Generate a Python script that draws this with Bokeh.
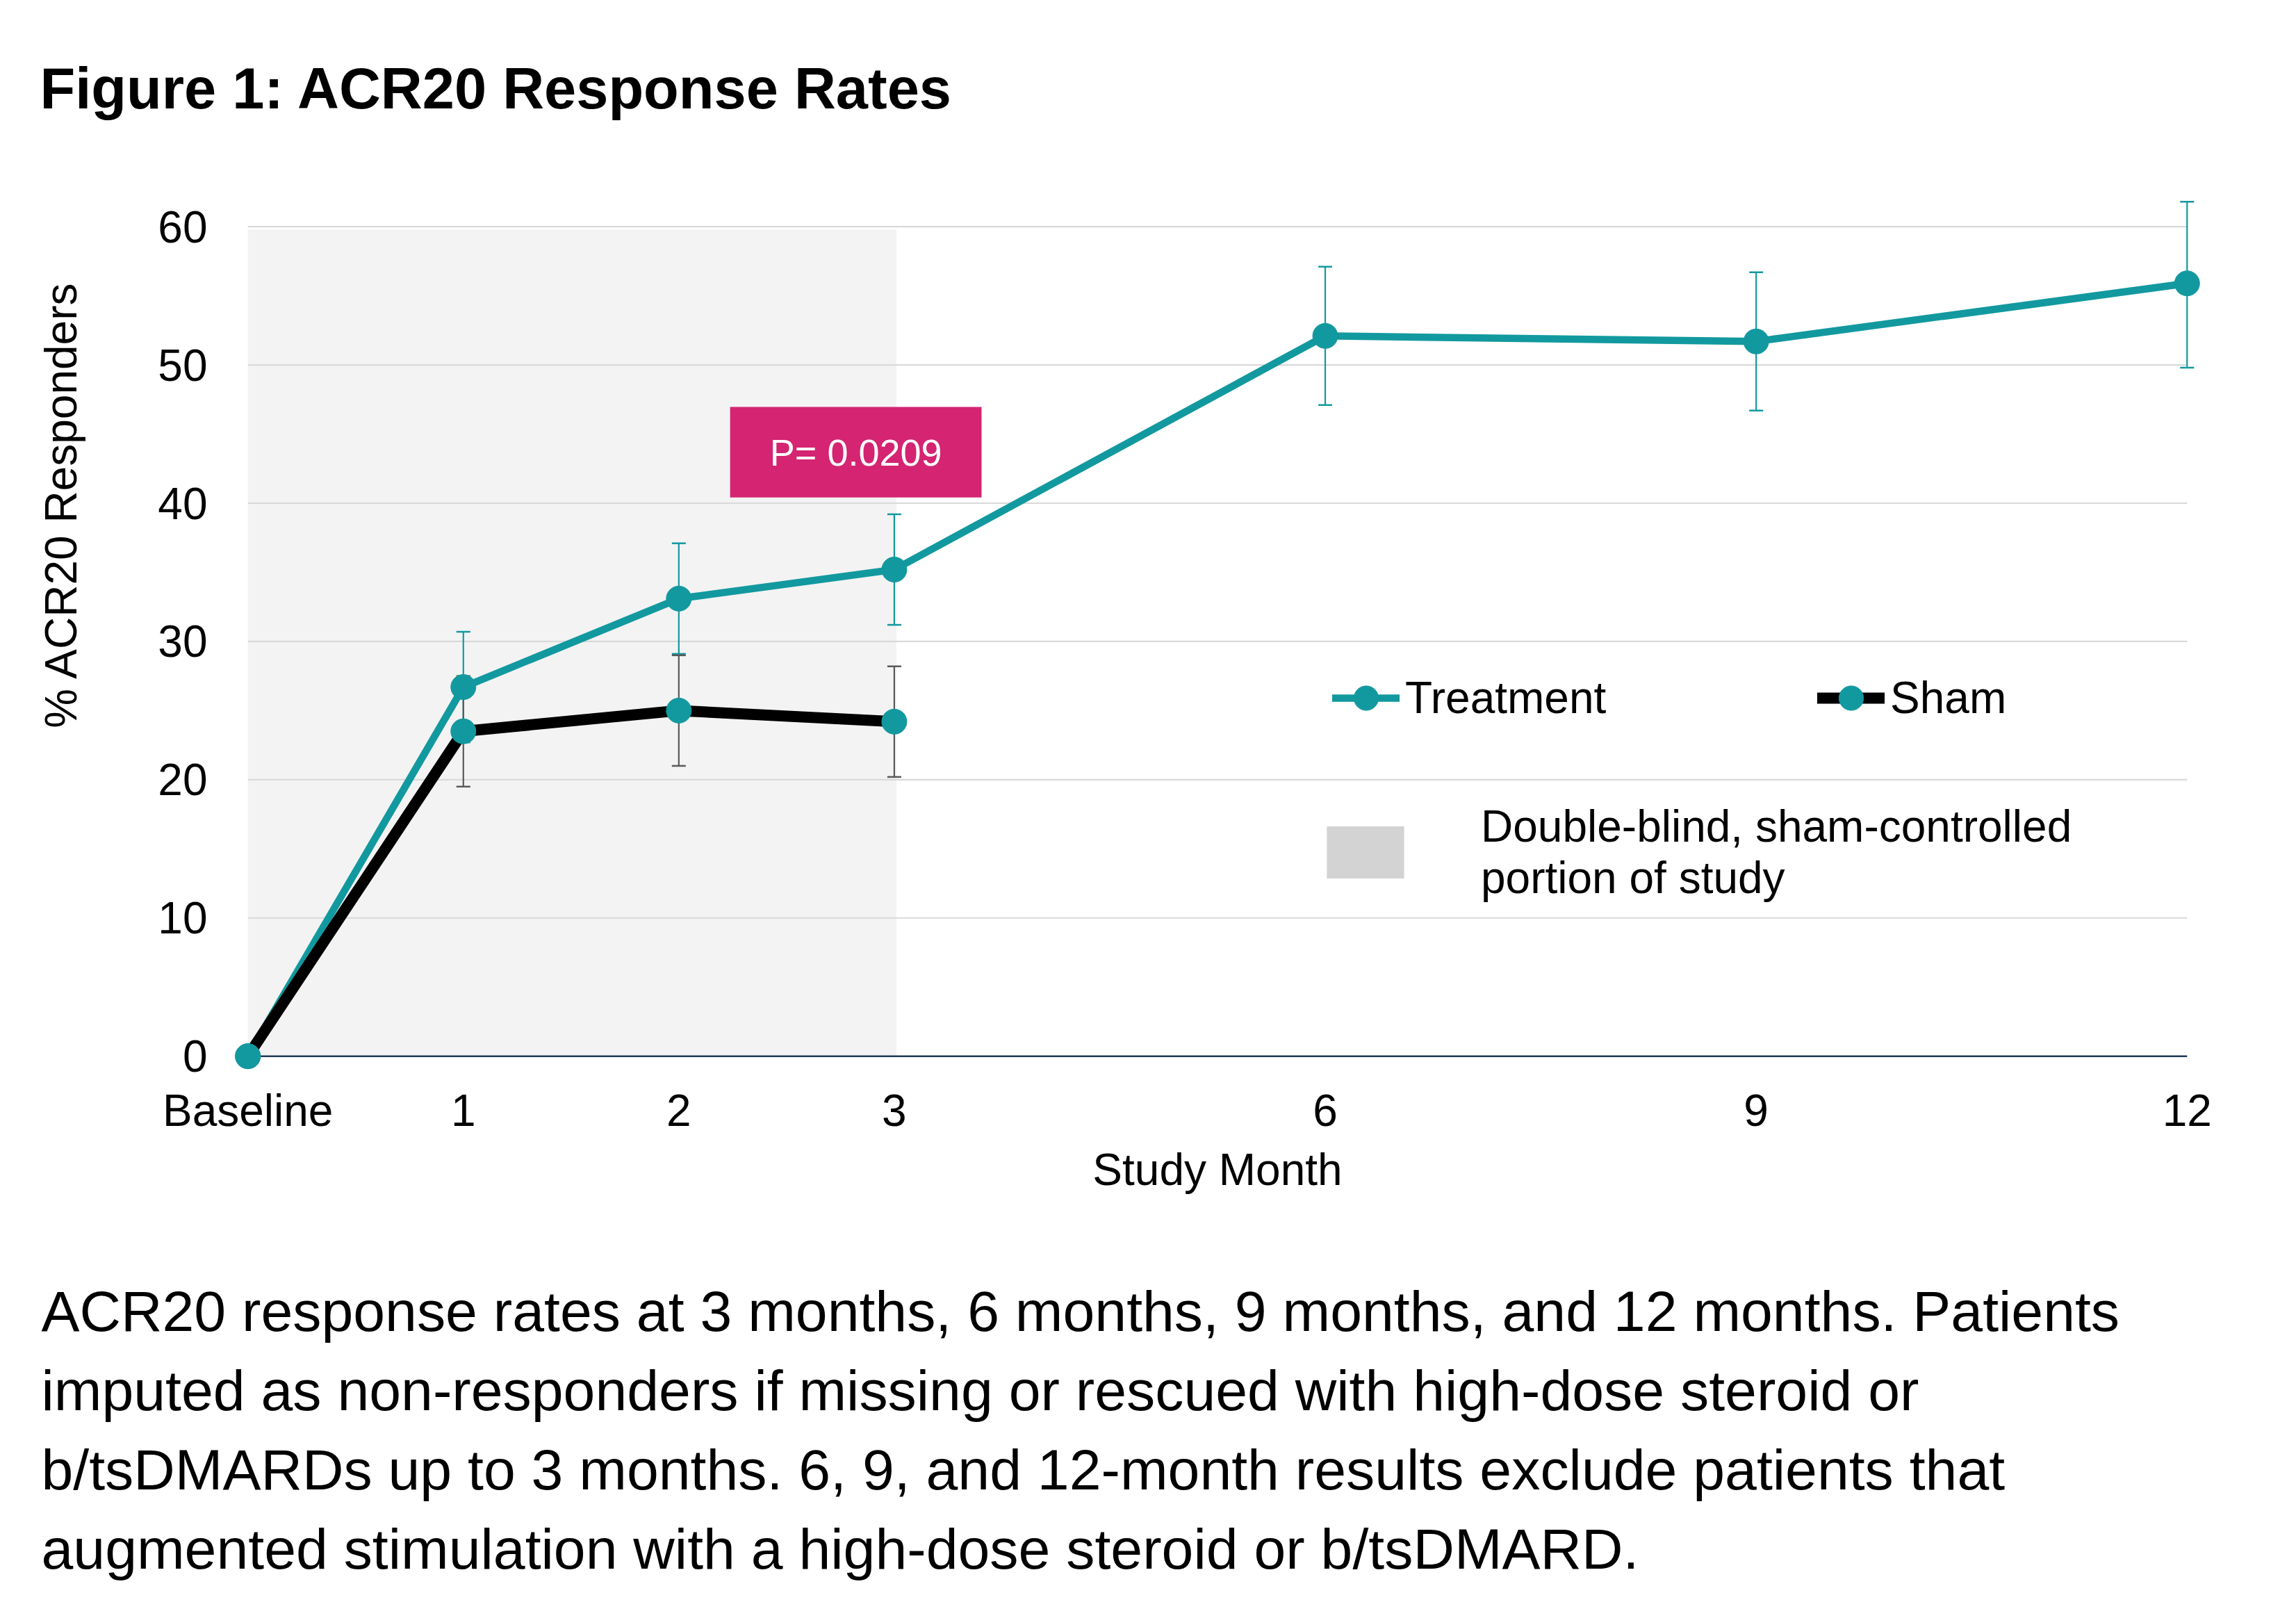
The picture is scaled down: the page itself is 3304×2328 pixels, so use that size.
import math
from bokeh.plotting import figure
from bokeh.layouts import column, row
from bokeh.models import (ColumnDataSource, Range1d, FixedTicker, Label, Legend,
                          LegendItem, BoxAnnotation)
from bokeh.core.properties import value
from bokeh.embed import file_html
from bokeh.resources import INLINE

# ---------------- data ----------------
month_labels = ["Baseline", "1", "2", "3", "6", "9", "12"]
axis_slot = [0, 1, 2, 3, 5, 7, 9]          # category slots on the Excel-like axis
treatment = [0.0, 26.7, 33.1, 35.2, 52.1, 51.7, 55.9]
treatment_upper = [30.7, 37.1, 39.2, 57.1, 56.7, 61.8]
treatment_lower = [22.7, 29.1, 31.2, 47.1, 46.7, 49.8]
sham = [0.0, 23.5, 25.0, 24.2]
sham_upper = [27.5, 29.0, 28.2]
sham_lower = [19.5, 21.0, 20.2]
y_ticks = [0, 10, 20, 30, 40, 50, 60]
blind_months = (0, 3)                       # index range of the double-blind portion
p_value_text = "P= 0.0209"
title_text = "Figure 1: ACR20 Response Rates"
y_title = "% ACR20 Responders"
x_title = "Study Month"
caption_lines = [
    "ACR20 response rates at 3 months, 6 months, 9 months, and 12 months. Patients",
    "imputed as non-responders if missing or rescued with high-dose steroid or",
    "b/tsDMARDs up to 3 months. 6, 9, and 12-month results exclude patients that",
    "augmented stimulation with a high-dose steroid or b/tsDMARD.",
]

# ---------------- style ----------------
FONT = "Liberation Sans"
TEAL = "#12999F"
MAGENTA = "#D42472"
SHADE = "#F3F3F3"
SWATCH = "#D3D3D3"
GRID = "#D9D9D9"
AXIS = "#1F3A56"
ERR_GRAY = "#595959"

W = 3288
TITLE_H = 220
MID_H = 1560
CAP_H = 532
YLAB_W = 150


def text_canvas(w, h):
    f = figure(width=w, height=h, output_backend="svg", toolbar_location=None, tools="",
               title=None, x_range=Range1d(0, w), y_range=Range1d(h, 0), min_border=0,
               x_axis_location=None, y_axis_location=None)
    f.outline_line_color = None
    f.background_fill_color = "white"
    f.border_fill_color = "white"
    f.grid.visible = False
    return f


# ---------------- title ----------------
ft = text_canvas(W, TITLE_H)
ft.text(x=[57], y=[127], text=[title_text], text_font=value(FONT), text_font_size=value("83px"),
        text_font_style=value("bold"), text_color=value("black"),
        text_align=value("left"), text_baseline=value("alphabetic"))

# ---------------- y-axis title ----------------
fy = text_canvas(YLAB_W, MID_H)
fy.text(x=[87], y=[556], text=[y_title], angle=math.pi / 2, text_font=value(FONT),
        text_font_size=value("64px"), text_color=value("black"),
        text_align=value("center"), text_baseline=value("alphabetic"))

# ---------------- main chart ----------------
p = figure(width=W - YLAB_W, height=MID_H, output_backend="svg", toolbar_location=None, tools="",
           title=None, x_range=Range1d(-0.12, 9.12), y_range=Range1d(-1.8, 63),
           min_border_left=319 - YLAB_W, min_border_right=104, min_border_top=266 - TITLE_H,
           min_border_bottom=TITLE_H + MID_H - 1555)
p.outline_line_color = None
p.background_fill_color = "white"
p.border_fill_color = "white"
p.xgrid.visible = False
p.ygrid.visible = False

b0, b1 = axis_slot[blind_months[0]], axis_slot[blind_months[1]]

# shaded double-blind portion
p.add_layout(BoxAnnotation(left=b0, right=b1 + 0.01, bottom=0, top=59.8,
                           fill_color=SHADE, fill_alpha=1.0, line_color=None, level="image"))

# gridlines limited to the category span
x_lo, x_hi = axis_slot[0], axis_slot[-1]
gl = p.segment(x0=[x_lo] * (len(y_ticks) - 1), x1=[x_hi] * (len(y_ticks) - 1),
               y0=y_ticks[1:], y1=y_ticks[1:], line_color=GRID, line_width=2.2)
gl.level = "underlay"
zl = p.segment(x0=[x_lo], x1=[x_hi], y0=[y_ticks[0]], y1=[y_ticks[0]], line_color=AXIS, line_width=2.5)
zl.level = "underlay"

src_t = ColumnDataSource(dict(x=axis_slot, y=treatment))
src_s = ColumnDataSource(dict(x=axis_slot[:len(sham)], y=sham))
src_te = ColumnDataSource(dict(x=axis_slot[1:], lo=treatment_lower, hi=treatment_upper))
src_se = ColumnDataSource(dict(x=axis_slot[1:len(sham)], lo=sham_lower, hi=sham_upper))

# error bars
for src, col in ((src_te, TEAL), (src_se, ERR_GRAY)):
    p.segment(x0="x", y0="lo", x1="x", y1="hi", source=src, line_color=col, line_width=2.2)
    p.scatter(x="x", y="hi", source=src, marker="dash", size=20, line_color=col, line_width=2.5)
    p.scatter(x="x", y="lo", source=src, marker="dash", size=20, line_color=col, line_width=2.5)

t_line = p.line("x", "y", source=src_t, line_color=TEAL, line_width=10.5, line_join="round", line_cap="round")
s_line = p.line("x", "y", source=src_s, line_color="black", line_width=16, line_join="round", line_cap="round")
t_pts = p.scatter("x", "y", source=src_t, size=36, fill_color=TEAL, line_color=TEAL, line_width=1)
s_pts = p.scatter("x", "y", source=src_s, size=36, fill_color=TEAL, line_color=TEAL, line_width=1)
# legend-only swatch for the double-blind region (hidden on the plot)
swatch = p.quad(left=[b0], right=[b1], bottom=[y_ticks[0]], top=[y_ticks[-1]],
                fill_color=SWATCH, line_color=None)
swatch.visible = False

# axes
xa = p.xaxis[0]
xa.ticker = FixedTicker(ticks=axis_slot)
xa.major_label_overrides = {s: lab for s, lab in zip(axis_slot, month_labels)}
xa.axis_line_color = None
xa.major_tick_line_color = None
xa.minor_tick_line_color = None
xa.major_tick_out = 0
xa.major_tick_in = 0
xa.major_label_standoff = 6
xa.major_label_text_font = FONT
xa.major_label_text_font_size = "64px"
xa.major_label_text_color = "black"
xa.axis_label = x_title
xa.axis_label_text_font = FONT
xa.axis_label_text_font_size = "64px"
xa.axis_label_text_font_style = "normal"
xa.axis_label_text_color = "black"
xa.axis_label_standoff = 10

ya = p.yaxis[0]
ya.ticker = FixedTicker(ticks=y_ticks)
ya.axis_line_color = None
ya.major_tick_line_color = None
ya.minor_tick_line_color = None
ya.major_tick_out = 0
ya.major_tick_in = 0
ya.major_label_standoff = 21
ya.major_label_text_font = FONT
ya.major_label_text_font_size = "64px"
ya.major_label_text_color = "black"

# P-value box
p.add_layout(BoxAnnotation(left=2.238, right=3.405, bottom=40.42, top=46.96,
                           fill_color=MAGENTA, fill_alpha=1.0, line_color=None))
p.add_layout(Label(x=2.822, y=43.69, text=p_value_text, text_align="center", text_baseline="middle",
                   text_color="white", text_font=FONT, text_font_size="54px"))

# legends
common = dict(padding=0, margin=0, spacing=0, border_line_color=None, background_fill_alpha=0,
              label_text_font=FONT, label_text_font_size="64px", label_text_color="black")
p.add_layout(Legend(items=[LegendItem(label="Treatment", renderers=[t_line, t_pts])],
                    location=(1598, 507), glyph_width=97, glyph_height=88, label_standoff=8, **common))
p.add_layout(Legend(items=[LegendItem(label="Sham", renderers=[s_line, s_pts])],
                    location=(2296, 507), glyph_width=97, glyph_height=88, label_standoff=8, **common))
p.add_layout(Legend(items=[LegendItem(label="Double-blind, sham-controlled\nportion of study", renderers=[swatch])],
                    location=(1576, 255), glyph_width=139, glyph_height=94, label_standoff=97, **common))

# ---------------- caption ----------------
fc = text_canvas(W, CAP_H)
cap_y0 = 1885 - TITLE_H - MID_H
fc.text(x=[59] * len(caption_lines), y=[cap_y0 + 114 * i for i in range(len(caption_lines))],
        text=caption_lines, text_font=value(FONT), text_font_size=value("82.4px"),
        text_color=value("black"), text_align=value("left"), text_baseline=value("alphabetic"))

layout = column(ft, row(fy, p), fc)
open("out.html", "w").write(file_html(layout, INLINE))
